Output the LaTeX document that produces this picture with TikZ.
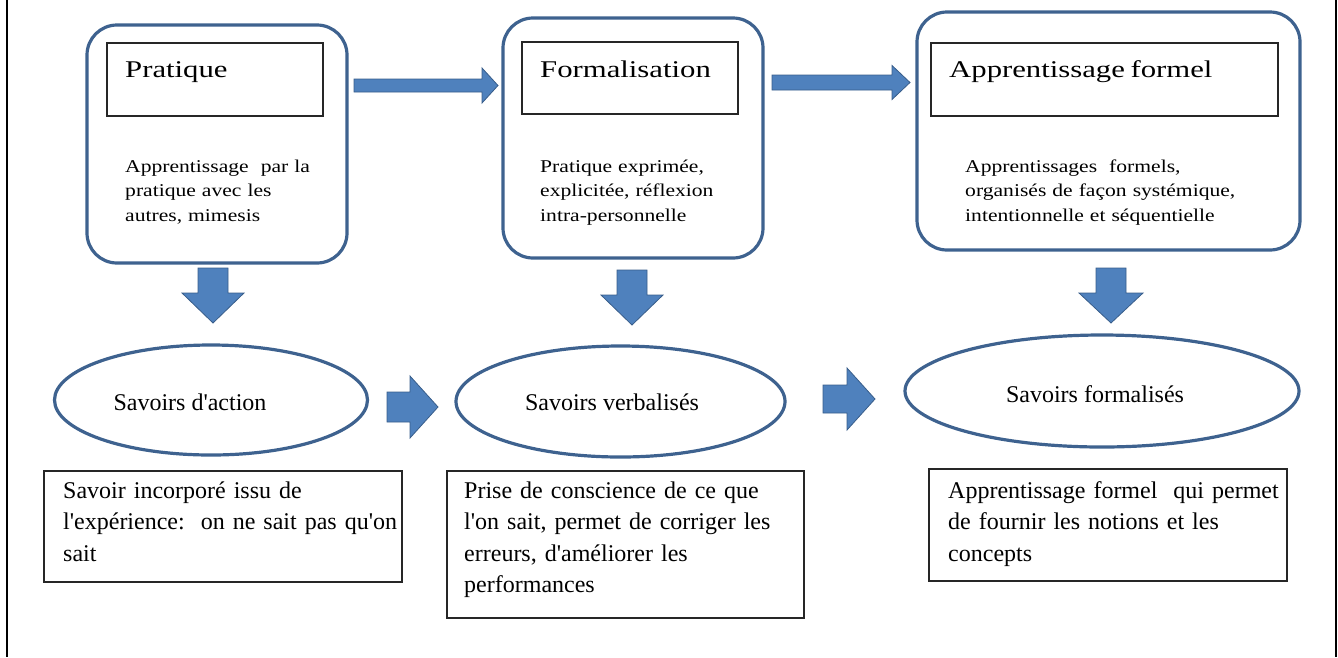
\documentclass[tikz,border=0pt]{standalone}
\usepackage{fontspec}
\setmainfont{Liberation Serif}
\newfontfamily\ttlfont[FakeStretch=1.28]{Liberation Serif}
\newfontfamily\bdyfont[FakeStretch=1.2]{Liberation Serif}
\usetikzlibrary{shapes.geometric}
\definecolor{boxblue}{RGB}{62,98,143}
\definecolor{arrfill}{RGB}{79,129,189}
\definecolor{arrline}{RGB}{56,93,138}
\newcommand\sq{\textquotesingle}
\newcommand\myharrow[6]{% x0 xbase xtip yc shafthalf headhalf
  \filldraw[blockarrow] (#1,#4-#5) -- (#2,#4-#5) -- (#2,#4-#6) -- (#3,#4) -- (#2,#4+#6) -- (#2,#4+#5) -- (#1,#4+#5) -- cycle;}
\newcommand\myvarrow[6]{% xc ytop ybase ytip shafthalf headhalf
  \filldraw[blockarrow] (#1-#5,#2) -- (#1-#5,#3) -- (#1-#6,#3) -- (#1,#4) -- (#1+#6,#3) -- (#1+#5,#3) -- (#1+#5,#2) -- cycle;}
\tikzset{
  rbox/.style={draw=boxblue, line width=3.2pt, rounded corners=30pt, fill=white},
  titlebox/.style={draw=black!85, line width=1.2pt},
  oval/.style={ellipse, draw=boxblue, line width=3.2pt, inner sep=0pt},
  descbox/.style={draw=black!85, line width=1.2pt},
  blockarrow/.style={fill=arrfill, draw=arrline, line width=0.8pt},
  ttl/.style={anchor=base west, inner sep=0pt, font=\ttlfont\fontsize{24}{28}\selectfont},
  bdy/.style={anchor=base west, inner sep=0pt, text width=320pt, align=left, font=\bdyfont\fontsize{18}{24.5}\selectfont},
  ovaltxt/.style={anchor=base, inner sep=0pt, font=\fontsize{24}{28}\selectfont},
  desc/.style={anchor=base west, inner sep=0pt, text width=340pt, align=left, font=\fontsize{24}{31.5}\selectfont},
}
\begin{document}
\begin{tikzpicture}[x=1pt,y=-1pt]
\useasboundingbox (0,0) rectangle (1338,657);
% outer side lines
\coordinate (tl) at (7,0); \coordinate (bl) at (7,657);
\coordinate (tr) at (1336,0); \coordinate (br) at (1336,657);
\draw[line width=2.4pt] (tl) -- (bl);
\draw[line width=2.4pt] (tr) -- (br);
% top rounded boxes
\node[rbox, minimum width=260pt, minimum height=238pt] (b1) at (217,144) {};
\node[rbox, minimum width=260pt, minimum height=240pt] (b2) at (633,138) {};
\node[rbox, minimum width=383pt, minimum height=238pt] (b3) at (1108.5,131) {};
% inner title boxes
\node[titlebox, minimum width=216pt, minimum height=73pt] (r1) at (215,79.5) {};
\node[titlebox, minimum width=216pt, minimum height=72pt] (r2) at (630,78) {};
\node[titlebox, minimum width=347pt, minimum height=73pt] (r3) at (1104.5,79.5) {};
\node[ttl] (t1) at (125,77) {Pratique};
\node[ttl] (t2) at (540,77) {Formalisation};
\node[ttl] (t3) at (949,77) {Apprentissage\kern-2pt\ formel};
% body texts
\node[bdy] (x1) at (125,172) {Apprentissage\ \ par la\\pratique avec les\\autres, mimesis};
\node[bdy] (x2) at (540,172) {Pratique exprimée,\\explicitée, réflexion\\intra-personnelle};
\node[bdy] (x3) at (965,172) {Apprentissages\ \ formels,\\organisés de façon systémique,\\intentionnelle et séquentielle};
% top horizontal arrows
\myharrow{354}{482}{498}{85.5}{6.5}{17.5}
\myharrow{772}{892}{910}{82.5}{7.5}{17}
% down arrows
\myvarrow{213}{268}{293}{323}{15}{31}
\myvarrow{632}{270}{295}{325}{15}{31}
\myvarrow{1111}{268}{293}{323}{15}{32}
% ellipses
\node[oval, minimum width=313pt, minimum height=110pt] (e1) at (211,400) {};
\node[oval, minimum width=329pt, minimum height=111pt] (e2) at (620.5,401.5) {};
\node[oval, minimum width=394pt, minimum height=112pt] (e3) at (1102,391) {};
\node[ovaltxt] (o1) at (190,410) {Savoirs d\sq action};
\node[ovaltxt] (o2) at (612,410) {Savoirs verbalisés};
\node[ovaltxt] (o3) at (1095,402) {Savoirs formalisés};
% bottom horizontal arrows
\myharrow{387}{410}{438}{407}{15}{31}
\myharrow{823}{847}{875}{399}{14}{31}
% description boxes
\node[descbox, minimum width=358pt, minimum height=111pt] (d1) at (223,526.5) {};
\node[descbox, minimum width=357pt, minimum height=147pt] (d2) at (625.5,544.5) {};
\node[descbox, minimum width=358pt, minimum height=112pt] (d3) at (1108,525) {};
\node[desc] (y1) at (63,498) {Savoir incorporé issu de\\l\sq expérience:\ \ on ne sait pas qu\sq on\\sait};
\node[desc] (y2) at (464,498) {Prise de conscience de ce que\\l\sq on sait, permet de corriger les\\erreurs, d\sq améliorer les\\performances};
\node[desc] (y3) at (948,498) {Apprentissage formel\ \ qui permet\\de fournir les notions et les\\concepts};
\end{tikzpicture}
\end{document}
